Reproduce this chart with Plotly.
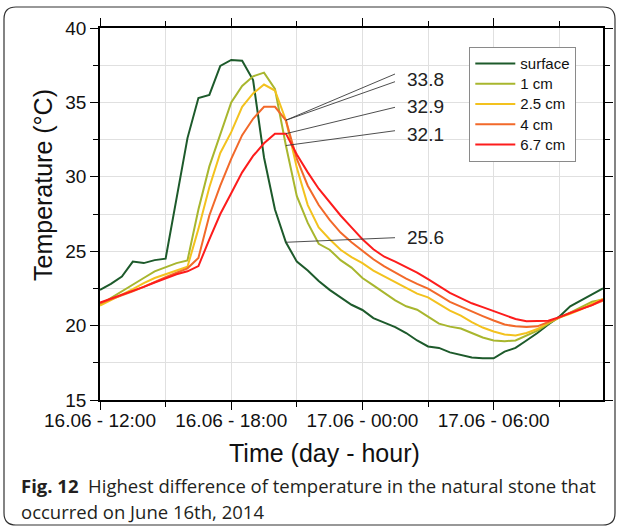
import pandas as pd
import plotly.graph_objects as go

# ---- data (30-min readings, 16.06 12:00 -> 17.06 11:00) ----
start_time = "2014-06-16 12:00"
n_points = 47
times = pd.date_range(start_time, periods=n_points, freq="30min")

surface = [22.4, 22.8, 23.3, 24.3, 24.2, 24.4, 24.5, 28.5, 32.6, 35.3, 35.5, 37.45,
           37.85, 37.8, 36.5, 31.3, 27.8, 25.6, 24.3, 23.7, 23.0, 22.4, 21.9, 21.4,
           21.05, 20.5, 20.2, 19.9, 19.5, 19.0, 18.6, 18.5, 18.2, 18.0, 17.85, 17.8,
           17.8, 18.25, 18.5, 19.0, 19.5, 20.07, 20.6, 21.3, 21.7, 22.05, 22.5]
cm1 = [21.4, 21.86, 22.3, 22.75, 23.2, 23.64, 23.94, 24.2, 24.38, 27.8, 30.7, 32.8,
       35.0, 36.1, 36.75, 37.0, 35.9, 32.1, 28.7, 26.9, 25.5, 25.1, 24.4, 23.9,
       23.2, 22.7, 22.2, 21.7, 21.3, 21.07, 20.6, 20.13, 19.93, 19.8, 19.5, 19.2,
       19.0, 18.95, 19.0, 19.33, 19.66, 20.13, 20.54, 20.87, 21.24, 21.6, 21.75]
cm2_5 = [21.35, 21.7, 22.05, 22.45, 22.85, 23.2, 23.45, 23.7, 23.95, 26.5, 29.3, 31.6,
         33.0, 34.7, 35.6, 36.2, 35.8, 33.8, 30.6, 28.1, 26.6, 25.8, 25.1, 24.6,
         24.2, 23.7, 23.3, 22.95, 22.55, 22.15, 21.9, 21.45, 21.0, 20.67, 20.23, 19.87,
         19.6, 19.4, 19.33, 19.5, 19.77, 20.2, 20.54, 20.8, 21.1, 21.48, 21.8]
cm4 = [21.5, 21.75, 22.0, 22.3, 22.6, 22.95, 23.25, 23.55, 23.85, 24.55, 27.4, 29.4,
       31.2, 32.8, 33.9, 34.7, 34.7, 33.8, 31.2, 29.4, 28.1, 27.1, 26.25, 25.6,
       25.0, 24.46, 23.98, 23.56, 23.15, 22.8, 22.48, 22.05, 21.6, 21.27, 20.94, 20.64,
       20.34, 20.07, 19.95, 19.91, 19.95, 20.23, 20.54, 20.87, 21.1, 21.38, 21.68]
cm6_7 = [21.55, 21.8, 22.05, 22.35, 22.6, 22.9, 23.2, 23.45, 23.65, 24.0, 25.8, 27.5,
         28.9, 30.3, 31.4, 32.25, 32.9, 32.9, 31.5, 30.3, 29.2, 28.3, 27.4, 26.6,
         25.8, 25.13, 24.63, 24.3, 23.93, 23.56, 23.12, 22.68, 22.2, 21.85, 21.5, 21.24,
         20.96, 20.7, 20.44, 20.3, 20.29, 20.33, 20.57, 20.85, 21.14, 21.38, 21.74]

series_names = ["surface", "1 cm", "2.5 cm", "4 cm", "6.7 cm"]
series_values = [surface, cm1, cm2_5, cm4, cm6_7]
series_colors = ["#1d5a2b", "#a8b62e", "#f3c21e", "#f2692a", "#fd1c1c"]

x_tick_vals = ["2014-06-16 12:00", "2014-06-16 18:00", "2014-06-17 00:00", "2014-06-17 06:00"]
x_tick_text = ["16.06 - 12:00", "16.06 - 18:00", "17.06 - 00:00", "17.06 - 06:00"]

# annotated point (20:30) and labels
ann_index = 17
ann_labels = ["33.8", "32.9", "32.1", "25.6"]

# ---- layout geometry ----
W, H = 622, 528
ML, MR, MT, MB = 100, 19, 28, 128
PW, PH = W - ML - MR, H - MT - MB


def px(xp):
    return (xp - ML) / PW


def py(yp):
    return (H - MB - yp) / PH


fig = go.Figure()
for name, vals, col in zip(series_names, series_values, series_colors):
    fig.add_trace(go.Scatter(x=times, y=vals, mode="lines",
                             name=f"<span style='font-size:15px'>{name}</span>",
                             line=dict(color=col, width=2)))

# label lines (data coords for pointed end)
t0 = pd.Timestamp(start_time)
x_end = times[ann_index]
hours_per_px = 23.0 / PW
tail_x = t0 + pd.Timedelta(hours=(395 - ML) * hours_per_px)


def y_of(yp):
    return 15 + (H - MB - yp) / PH * 25


line_specs = [(74, cm2_5[ann_index]), (81.7, cm4[ann_index]),
              (107.3, cm6_7[ann_index]), (130.7, cm1[ann_index]),
              (237.7, surface[ann_index])]
for ty, val in line_specs:
    fig.add_shape(type="line", xref="x", yref="y", x0=tail_x, y0=y_of(ty),
                  x1=x_end, y1=val, line=dict(color="#3a3a3a", width=0.9))

for lab, ty in zip(ann_labels, [79, 106, 134, 238]):
    fig.add_annotation(text=lab, xref="paper", yref="paper", x=px(405), y=py(ty),
                       showarrow=False, xanchor="left", yanchor="middle",
                       font=dict(size=19, color="#222222", family="Liberation Sans, Arial"))

# axis titles (placed as in the original layout)
title_font = dict(size=25, color="#111111", family="Liberation Sans, Arial")
fig.add_annotation(text="Time (day - hour)", xref="paper", yref="paper",
                   x=px(324), y=py(453), showarrow=False,
                   xanchor="center", yanchor="middle", font=title_font)
fig.add_annotation(text="Temperature (°C)", xref="paper", yref="paper",
                   x=px(43), y=py(185), showarrow=False, textangle=-90,
                   xanchor="center", yanchor="middle", font=title_font)

# caption
cap_font = dict(size=18.5, color="#231f20", family="Open Sans")
fig.add_annotation(text="<b>Fig. 12</b>  Highest difference of temperature in the natural stone that",
                   xref="paper", yref="paper", x=px(19), y=py(485), showarrow=False,
                   xanchor="left", yanchor="middle", font=cap_font)
fig.add_annotation(text="occurred on June 16th, 2014",
                   xref="paper", yref="paper", x=px(19), y=py(511), showarrow=False,
                   xanchor="left", yanchor="middle", font=cap_font)

# rounded frame
x0b, x1b, y0b, y1b, r = 4, 615, 7, 525, 12
path = (f"M {px(x0b + r)},{py(y0b)} L {px(x1b - r)},{py(y0b)} "
        f"Q {px(x1b)},{py(y0b)} {px(x1b)},{py(y0b + r)} "
        f"L {px(x1b)},{py(y1b - r)} Q {px(x1b)},{py(y1b)} {px(x1b - r)},{py(y1b)} "
        f"L {px(x0b + r)},{py(y1b)} Q {px(x0b)},{py(y1b)} {px(x0b)},{py(y1b - r)} "
        f"L {px(x0b)},{py(y0b + r)} Q {px(x0b)},{py(y0b)} {px(x0b + r)},{py(y0b)} Z")
fig.add_shape(type="path", xref="paper", yref="paper", path=path,
              line=dict(color="#333333", width=1.2), layer="below")

axis_font = dict(size=19, color="#111111", family="Liberation Sans, Arial")
fig.update_xaxes(
    type="date", range=[times[0], times[-1]],
    tickvals=x_tick_vals, ticktext=x_tick_text, tickfont=axis_font,
    ticks="outside", ticklen=8, tickwidth=1.3, tickcolor="black",
    ticklabelstandoff=-6,
    showline=True, linecolor="black", linewidth=1.5, mirror="ticks",
    showgrid=True, gridcolor="#e0e0e0", gridwidth=1,
    minor=dict(dtick=3 * 3600 * 1000, tick0=start_time, ticks="outside", ticklen=5,
               tickwidth=1.2, tickcolor="black", showgrid=True, gridcolor="#e0e0e0"),
    zeroline=False,
)
fig.update_yaxes(
    range=[15, 40], tick0=15, dtick=5, tickfont=axis_font,
    ticks="outside", ticklen=8, tickwidth=1.3, tickcolor="black",
    showline=True, linecolor="black", linewidth=1.5, mirror="ticks",
    showgrid=True, gridcolor="#e0e0e0", gridwidth=1,
    minor=dict(dtick=2.5, ticks="outside", ticklen=5, tickwidth=1.2, tickcolor="black",
               showgrid=True, gridcolor="#e0e0e0"),
    zeroline=False,
)

fig.update_layout(
    width=W, height=H,
    margin=dict(l=ML, r=MR, t=MT, b=MB, autoexpand=False),
    paper_bgcolor="white", plot_bgcolor="white",
    showlegend=True,
    legend=dict(x=px(469), y=py(47), xanchor="left", yanchor="top",
                bgcolor="white", bordercolor="#8a8a8a", borderwidth=1.3,
                font=dict(size=13.3, color="#111111", family="Liberation Sans, Arial"),
                tracegroupgap=0, itemwidth=40),
    font=dict(family="Liberation Sans, Arial"),
)

fig.write_html("out.html")
